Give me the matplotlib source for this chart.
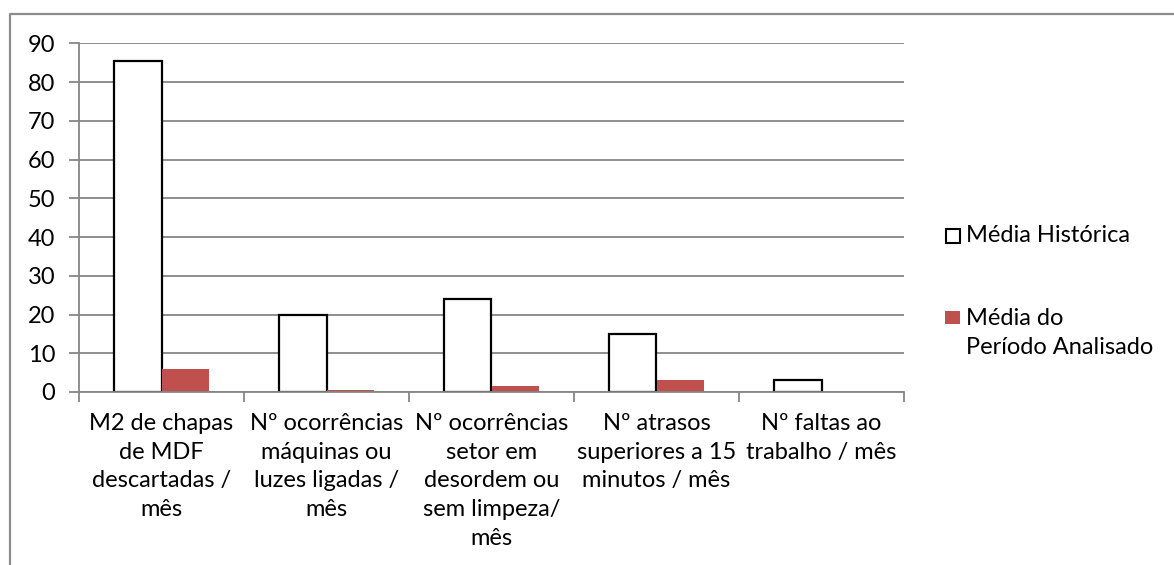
import matplotlib
matplotlib.use("Agg")
import matplotlib.pyplot as plt
from matplotlib.patches import Rectangle
from matplotlib.lines import Line2D
import numpy as np

plt.rcParams['font.family'] = ['Lato', 'DejaVu Sans']

categories = [
    "M2 de chapas\nde MDF\ndescartadas /\nmês",
    "Nº ocorrências\nmáquinas ou\nluzes ligadas /\nmês",
    "Nº ocorrências\nsetor em\ndesordem ou\nsem limpeza/\nmês",
    "Nº atrasos\nsuperiores a 15\nminutos / mês",
    "Nº faltas ao\ntrabalho / mês",
]
media_historica = [85.5, 20, 24, 15, 3]
media_periodo = [6, 0.5, 1.5, 3, 0]
series_labels = ["Média Histórica", "Média do\nPeríodo Analisado"]
yticks = list(range(0, 100, 10))

RED = "#C0504D"
GRID = "#868686"
FS = 17
W, H = 1174, 565

fig = plt.figure(figsize=(W / 100, H / 100), dpi=100)
ax = fig.add_axes([79 / W, 1 - 392 / H, (904 - 79) / W, (392 - 43.3) / H])

x = np.arange(len(categories))
bw = 0.285
ax.bar(x - bw / 2, media_historica, bw, facecolor="white", edgecolor="black",
       linewidth=1.6, zorder=3)
ax.bar(x + bw / 2, media_periodo, bw, facecolor=RED, edgecolor="none", zorder=3)

ax.set_xlim(-0.5, len(categories) - 0.5)
ax.set_ylim(0, 90)
ax.set_yticks(yticks)
ax.yaxis.grid(True, color=GRID, linewidth=1.3, zorder=0)
ax.set_axisbelow(True)

for side in ("top", "right"):
    ax.spines[side].set_visible(False)
for side in ("left", "bottom"):
    ax.spines[side].set_color(GRID)
    ax.spines[side].set_linewidth(1.3)
    ax.spines[side].set_zorder(4)

ax.set_xticks(x)
ax.set_xticklabels(categories, fontsize=FS, linespacing=1.46, va="top")
ax.tick_params(axis="x", which="major", length=0, pad=15)
ax.set_xticks(np.arange(-0.5, len(categories), 1.0), minor=True)
ax.tick_params(axis="x", which="minor", length=7, width=1.3, color=GRID,
               direction="out")
ax.tick_params(axis="y", length=7, width=1.3, color=GRID, direction="out",
               labelsize=FS, pad=10)

# legend drawn by hand in figure pixels
fig.text(966 / W, 1 - 236 / H, series_labels[0], fontsize=FS,
         va="center", ha="left")
fig.patches.append(Rectangle((945.5 / W, 1 - 243 / H), 14.5 / W, 14.5 / H,
                             transform=fig.transFigure, facecolor="white",
                             edgecolor="black", linewidth=1.5))
fig.text(966 / W, 1 - 333 / H, series_labels[1], fontsize=FS,
         va="center", ha="left", linespacing=1.52)
fig.patches.append(Rectangle((945 / W, 1 - 323.5 / H), 15 / W, 12.5 / H,
                             transform=fig.transFigure, facecolor=RED,
                             edgecolor="none"))

# chart area border
fig.lines.append(Line2D([10 / W, 10 / W, 1.0], [0, 1 - 14 / H, 1 - 14 / H],
                        transform=fig.transFigure, color="#8C8C8C",
                        linewidth=1.6))

fig.savefig("out.png", dpi=100)
